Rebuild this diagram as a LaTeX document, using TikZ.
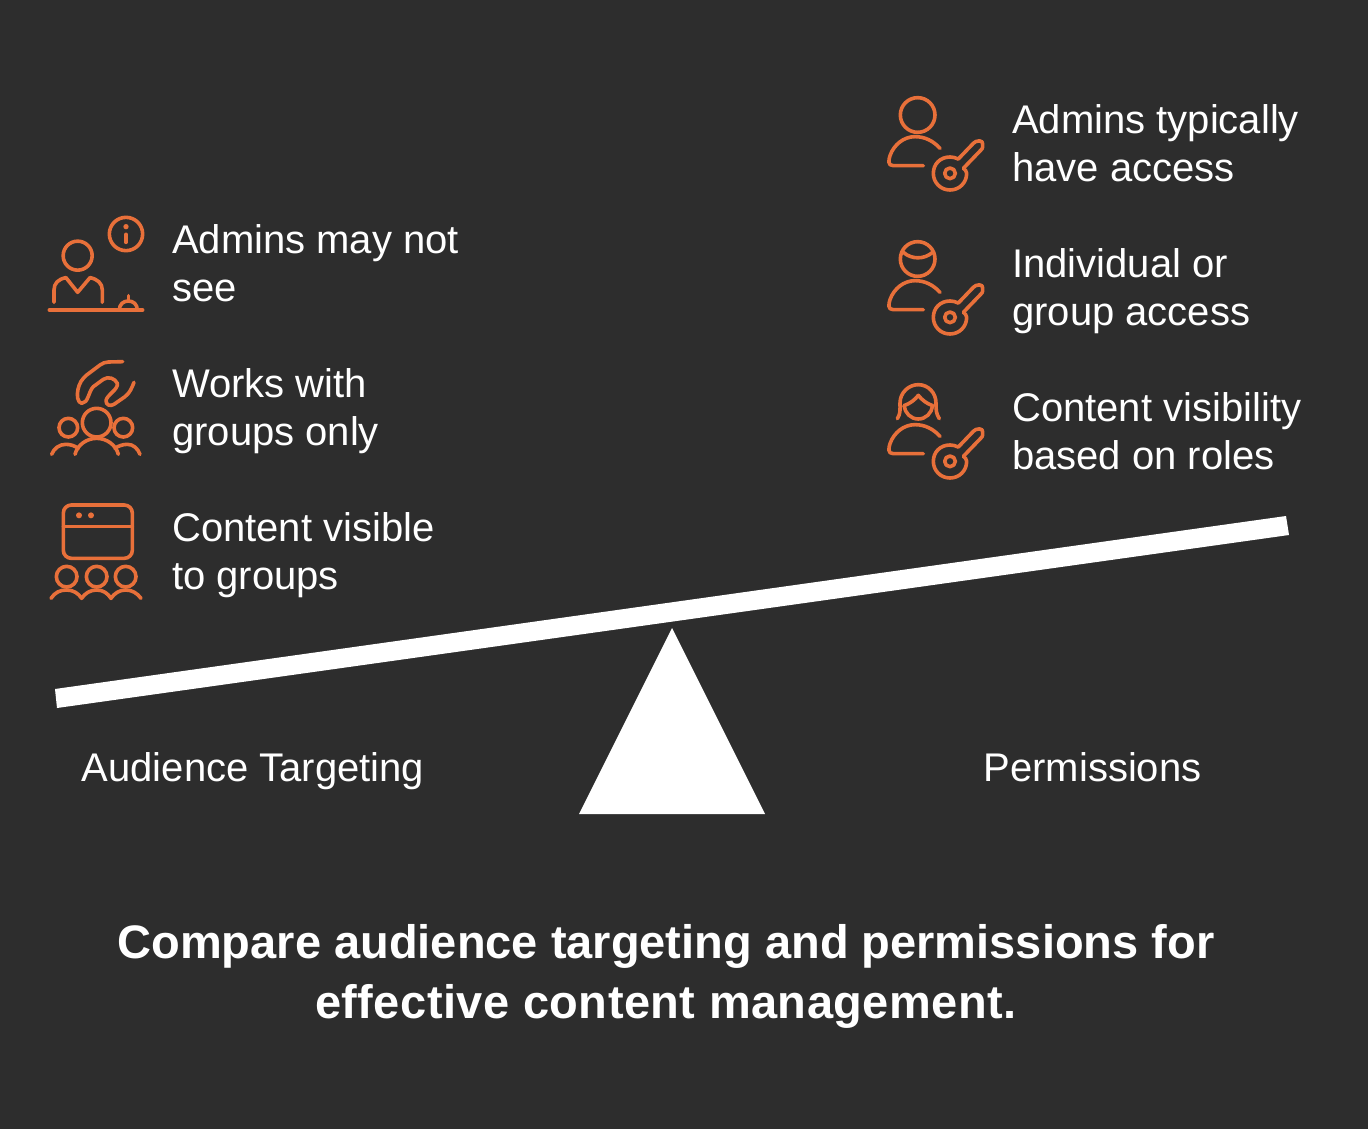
\documentclass[tikz,border=0pt]{standalone}
\usepackage{fontspec}
\setmainfont{Liberation Sans}
\definecolor{bgc}{HTML}{2D2D2D}
\definecolor{ora}{HTML}{E8703A}
\tikzset{
  lbl/.style={text=white,font=\fontsize{40}{48}\selectfont,align=left,anchor=west,inner sep=0pt},
  captxt/.style={text=white,font=\fontsize{40}{48}\selectfont,anchor=base,inner sep=0pt},
  ttl/.style={text=white,font=\bfseries\fontsize{47}{60}\selectfont,align=center,anchor=center,inner sep=0pt},
  ico/.style={draw=ora,line width=3.6pt,line cap=round,line join=round},
  zoomed/.style={x=0.33333pt,y=-0.33333pt},
}
\newcommand{\keypart}{%
  \draw[ico] (130,242) -- (40,242) .. controls (22,242) and (26,225) .. (30,212) .. controls (42,178) and (72,155) .. (105,155) .. controls (135,155) and (160,168) .. (180,190);
  \draw[ico] (210,265) circle (16);
  \draw[ico] (235,222) -- (280,175) .. controls (285,170) and (290,168) .. (296,168) -- (300,168) .. controls (306,168) and (308,172) .. (308,178) -- (308,186) .. controls (308,190) and (305,193) .. (302,196) -- (250,250);
  \draw[ico] (235,222) .. controls (226,218) and (218,216) .. (210,216) .. controls (180,216) and (160,238) .. (160,265) .. controls (160,293) and (182,315) .. (210,315) .. controls (238,315) and (260,293) .. (260,265) .. controls (260,260) and (255,252) .. (250,250);
}
\begin{document}
\begin{tikzpicture}[x=1pt,y=-1pt]
\useasboundingbox (0,0) rectangle (1368,1129);
\fill[bgc] (0,0) rectangle (1368,1129);
% seesaw
\fill[white] (55,689) -- (1286,516) -- (1289,535) -- (57,708) -- cycle;
\fill[white] (672,628) -- (765,814) -- (579,814) -- cycle;
% left texts
\node[lbl] (l1) at (172,263) {Admins may not\\see};
\node[lbl] (l2) at (172,411) {Works with\\groups only};
\node[lbl] (l3) at (172,555) {Content visible\\to groups};
% right texts
\node[lbl] (r1) at (1012,143) {Admins typically\\have access};
\node[lbl] (r2) at (1012,291) {Individual or\\group access};
\node[lbl] (r3) at (1012,431) {Content visibility\\based on roles};
% captions
\node[captxt] (c1) at (253,781) {Audience Targeting};
\node[captxt] (c2) at (1092.5,781) {Permissions};
\node[ttl] (t) at (666,976) {Compare audience targeting and permissions for\\\addfontfeatures{LetterSpace=1.0}effective content management.};
% icon 1
\begin{scope}[shift={(40,205)},zoomed]
  \draw[ico] (113,152) circle (43.5);
  \draw[ico] (258,87) circle (50);
  \fill[ora] (258,65) circle (8);
  \draw[ico] (258,88) -- (258,112);
  \draw[ico] (42,292) -- (42,255) .. controls (42,235) and (55,222) .. (78,218) -- (113,262) -- (150,218) .. controls (172,222) and (187,235) .. (187,255) -- (187,292);
  \draw[ico] (28,315) -- (308,315);
  \draw[ico] (238,315) .. controls (238,298) and (250,288) .. (265,288) .. controls (280,288) and (292,298) .. (292,315);
  \draw[ico] (265,272) -- (265,286);
\end{scope}
% icon 2
\begin{scope}[shift={(40,350)},zoomed]
  \draw[ico] (248,35) -- (205,36) .. controls (195,36) and (188,40) .. (180,45) -- (140,75) .. controls (125,88) and (118,100) .. (114,118) .. controls (110,135) and (112,158) .. (125,160) .. controls (145,160) and (145,125) .. (160,110) -- (190,88) .. controls (205,78) and (225,85) .. (232,100) .. controls (236,118) and (200,135) .. (198,152) .. controls (198,165) and (210,170) .. (222,163) -- (255,140) .. controls (270,128) and (275,115) .. (282,97);
  \draw[ico] (170,218) circle (43);
  \draw[ico] (85,233) circle (28);
  \draw[ico] (250,233) circle (28);
  \draw[ico] (105,313) .. controls (112,285) and (140,265) .. (170,265) .. controls (200,265) and (228,285) .. (235,313);
  \draw[ico] (35,313) .. controls (42,295) and (58,283) .. (78,283) .. controls (92,283) and (105,288) .. (115,295);
  \draw[ico] (225,295) .. controls (235,288) and (248,283) .. (262,283) .. controls (280,283) and (293,295) .. (300,313);
\end{scope}
% icon 3
\begin{scope}[shift={(40,495)},zoomed]
  \draw[ico,rounded corners=8pt] (70,30) rectangle (277,190);
  \draw[ico] (70,95) -- (277,95);
  \fill[ora] (117,61) circle (9);
  \fill[ora] (153,61) circle (9);
  \foreach \cx in {80,170,257} \draw[ico] (\cx,245) circle (31);
  \draw[ico] (33,310) .. controls (45,292) and (60,285) .. (80,285) .. controls (100,285) and (115,295) .. (125,310) .. controls (135,295) and (150,285) .. (170,285) .. controls (190,285) and (203,295) .. (213,310) .. controls (223,295) and (238,285) .. (257,285) .. controls (277,285) and (292,295) .. (303,310);
\end{scope}
% key icons
\begin{scope}[shift={(880,85)},zoomed]
  \draw[ico] (113,90) circle (52);
  \keypart
\end{scope}
\begin{scope}[shift={(880,229)},zoomed]
  \draw[ico] (113,90) circle (52);
  \draw[ico] (70,70) .. controls (95,92) and (132,92) .. (158,70);
  \keypart
\end{scope}
\begin{scope}[shift={(880,373)},zoomed]
  \draw[ico] (52,137) .. controls (62,122) and (60,110) .. (60,90) .. controls (60,60) and (85,35) .. (115,35) .. controls (145,35) and (168,60) .. (168,90) .. controls (168,110) and (168,122) .. (178,137);
  \draw[ico] (72,98) .. controls (90,92) and (105,80) .. (115,67) .. controls (125,80) and (140,92) .. (158,98);
  \draw[ico] (72,98) .. controls (75,120) and (92,138) .. (115,138) .. controls (138,138) and (155,120) .. (158,98);
  \keypart
\end{scope}
\end{tikzpicture}
\end{document}
